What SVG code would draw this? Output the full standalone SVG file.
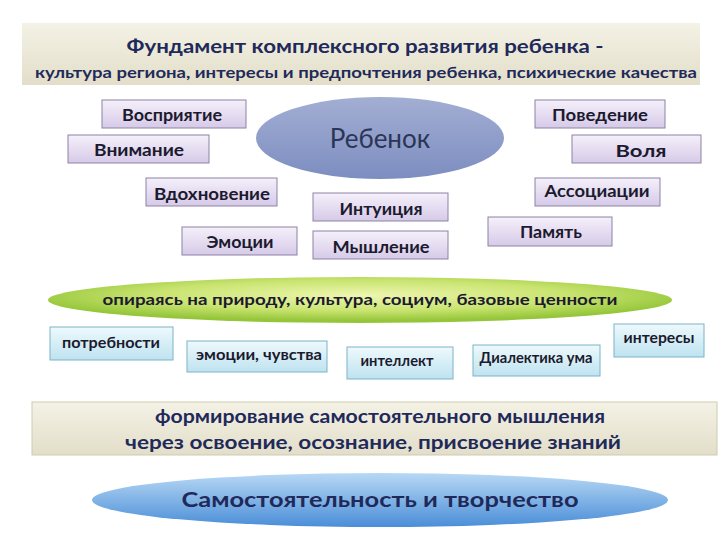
<svg xmlns="http://www.w3.org/2000/svg" width="720" height="540" viewBox="0 0 720 540">
<defs>
<linearGradient id="gBeige" x1="0" y1="0" x2="0" y2="1"><stop offset="0" stop-color="#F4F2E6"/><stop offset="1" stop-color="#E2DEC9"/></linearGradient>
<linearGradient id="gPurple" x1="0" y1="0" x2="0" y2="1"><stop offset="0" stop-color="#F5F0FA"/><stop offset="1" stop-color="#D6CAE8"/></linearGradient>
<linearGradient id="gCyan" x1="0" y1="0" x2="0" y2="1"><stop offset="0" stop-color="#EEF9FC"/><stop offset="1" stop-color="#BEE3F0"/></linearGradient>
<linearGradient id="gChild" x1="0" y1="0" x2="0" y2="1"><stop offset="0" stop-color="#A3AED3"/><stop offset="1" stop-color="#7C8DC0"/></linearGradient>
<radialGradient id="gGreen" cx="0.5" cy="0.4" r="0.55"><stop offset="0" stop-color="#EEF6B0"/><stop offset="0.6" stop-color="#C9E470"/><stop offset="1" stop-color="#95C63A"/></radialGradient>
<linearGradient id="gBlue" x1="0" y1="0" x2="0" y2="1"><stop offset="0" stop-color="#B8D8F4"/><stop offset="1" stop-color="#4A8ED8"/></linearGradient>
</defs>
<style>
.pb{fill:url(#gPurple);stroke:#8C82A6;stroke-width:1}
.cb{fill:url(#gCyan);stroke:#7DB3C8;stroke-width:1}
.pt{font-family:Lato,"Open Sans","Liberation Sans",sans-serif;font-weight:bold;font-size:17.5px;fill:#1C1A2E;text-anchor:middle}
.ct{font-family:Lato,"Open Sans","Liberation Sans",sans-serif;font-weight:bold;font-size:15px;fill:#1C1A2E;text-anchor:middle}
.nv{font-family:Lato,"Open Sans","Liberation Sans",sans-serif;font-weight:bold;fill:#1F2A5A;text-anchor:middle}
</style>
<rect width="720" height="540" fill="#FFFFFF"/>
<g id="banner">
<rect x="22" y="23" width="678" height="62" fill="url(#gBeige)"/>
<text class="nv" x="365" y="53" font-size="19" textLength="477" lengthAdjust="spacingAndGlyphs">Фундамент комплексного развития ребенка -</text>
<text class="nv" x="366" y="78" font-size="16" textLength="662" lengthAdjust="spacingAndGlyphs">культура региона, интересы и предпочтения ребенка, психические качества</text>
</g>
<g id="connectors"></g>
<g id="child">
<ellipse cx="380" cy="138" rx="124" ry="41" fill="url(#gChild)"/>
<text x="380" y="148" font-family="Lato,'Open Sans','Liberation Sans',sans-serif" font-size="26" fill="#2B3556" text-anchor="middle">Ребенок</text>
</g>
<g id="vospriyatie"><rect class="pb" x="102" y="100" width="144" height="28"/><text class="pt" x="172" y="121" textLength="100" lengthAdjust="spacingAndGlyphs">Восприятие</text></g>
<g id="vnimanie"><rect class="pb" x="68" y="135" width="141" height="28"/><text class="pt" x="139" y="156" textLength="90" lengthAdjust="spacingAndGlyphs">Внимание</text></g>
<g id="vdokhnovenie"><rect class="pb" x="146" y="178" width="131" height="28"/><text class="pt" x="212" y="200" textLength="116" lengthAdjust="spacingAndGlyphs">Вдохновение</text></g>
<g id="emotsii"><rect class="pb" x="182" y="227" width="115" height="28"/><text class="pt" x="240" y="248" textLength="67" lengthAdjust="spacingAndGlyphs">Эмоции</text></g>
<g id="intuitsiya"><rect class="pb" x="313" y="193" width="135" height="28"/><text class="pt" x="381" y="215" textLength="83" lengthAdjust="spacingAndGlyphs">Интуиция</text></g>
<g id="myshlenie"><rect class="pb" x="313" y="231" width="135" height="28"/><text class="pt" x="381" y="253" textLength="97" lengthAdjust="spacingAndGlyphs">Мышление</text></g>
<g id="povedenie"><rect class="pb" x="535" y="100" width="130" height="28"/><text class="pt" x="600" y="121" textLength="96" lengthAdjust="spacingAndGlyphs">Поведение</text></g>
<g id="volya"><rect class="pb" x="572" y="135" width="129" height="28"/><text class="pt" x="641" y="157" textLength="51" lengthAdjust="spacingAndGlyphs">Воля</text></g>
<g id="assotsiatsii"><rect class="pb" x="535" y="178" width="125" height="28"/><text class="pt" x="597" y="197" textLength="105" lengthAdjust="spacingAndGlyphs">Ассоциации</text></g>
<g id="pamyat"><rect class="pb" x="488" y="217" width="124" height="29"/><text class="pt" x="551" y="238" textLength="62" lengthAdjust="spacingAndGlyphs">Память</text></g>
<g id="green">
<ellipse cx="360" cy="300" rx="312" ry="23" fill="url(#gGreen)"/>
<text class="ct" x="360" y="305" font-size="15" textLength="515" lengthAdjust="spacingAndGlyphs">опираясь на природу, культура, социум, базовые ценности</text>
</g>
<g id="potrebnosti"><rect class="cb" x="50" y="327" width="123" height="33"/><text class="ct" x="111" y="348" textLength="98" lengthAdjust="spacingAndGlyphs">потребности</text></g>
<g id="emotsii-chuvstva"><rect class="cb" x="187" y="341" width="140" height="31"/><text class="ct" x="259" y="360" textLength="126" lengthAdjust="spacingAndGlyphs">эмоции, чувства</text></g>
<g id="intellekt"><rect class="cb" x="347" y="347" width="106" height="32"/><text class="ct" x="397" y="366" font-size="14" textLength="73" lengthAdjust="spacingAndGlyphs">интеллект</text></g>
<g id="dialektika"><rect class="cb" x="473" y="345" width="127" height="31"/><text class="ct" x="536" y="363" textLength="113" lengthAdjust="spacingAndGlyphs">Диалектика ума</text></g>
<g id="interesy"><rect class="cb" x="614" y="324" width="90" height="33"/><text class="ct" x="659" y="343" textLength="71" lengthAdjust="spacingAndGlyphs">интересы</text></g>
<g id="formirovanie">
<rect x="32" y="402" width="685" height="53" fill="url(#gBeige)" stroke="#CFCBB0" stroke-width="1"/>
<text class="nv" x="380" y="423" font-size="19" textLength="450" lengthAdjust="spacingAndGlyphs">формирование самостоятельного мышления</text>
<text class="nv" x="373" y="449" font-size="19" textLength="496" lengthAdjust="spacingAndGlyphs">через освоение, осознание, присвоение знаний</text>
</g>
<g id="samostoyatelnost">
<ellipse cx="380" cy="500" rx="288" ry="27" fill="url(#gBlue)"/>
<text class="nv" x="380" y="507" font-size="21" textLength="397" lengthAdjust="spacingAndGlyphs" fill="#1F3864">Самостоятельность и творчество</text>
</g>
</svg>
